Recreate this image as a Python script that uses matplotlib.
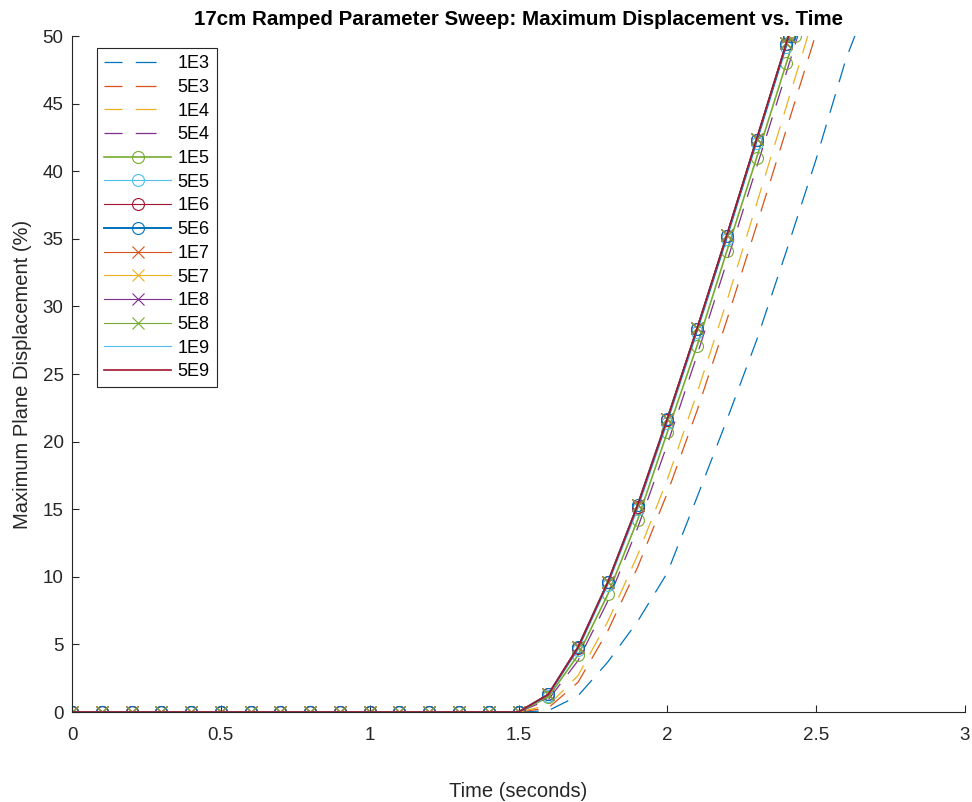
import numpy as np
import matplotlib
matplotlib.use("Agg")
import matplotlib.pyplot as plt

plt.rcParams['font.family'] = ['Liberation Sans', 'DejaVu Sans']
plt.rcParams['lines.scale_dashes'] = False

# time samples (s), every series is flat until 1.5 s
times = [0.0, 0.1, 0.2, 0.3, 0.4, 0.5, 0.6, 0.7, 0.8, 0.9, 1.0, 1.1, 1.2,
         1.3, 1.4, 1.5, 1.6, 1.7, 1.8, 1.9, 2.0, 2.1, 2.2, 2.3, 2.4, 2.5, 2.6]
flat = [0.0] * 16

labels = ['1E3', '5E3', '1E4', '5E4', '1E5', '5E5', '1E6', '5E6',
          '1E7', '5E7', '1E8', '5E8', '1E9', '5E9']

# displacement (%) from 1.6 s onwards
rise_1e3 = [0.1, 1.2, 3.7, 6.7, 10.3, 15.9, 21.6, 27.5, 34.1, 40.9, 48.3]
rise_5e3 = [0.3, 2.2, 6.0, 10.7, 16.2, 22.3, 29.0, 36.0, 43.1]
rise_1e4 = [0.5, 2.7, 6.7, 11.6, 17.2, 23.6, 30.4, 37.6, 44.8]
rise_5e4 = [0.9, 3.8, 8.2, 13.6, 19.8, 26.4, 33.3, 40.3, 47.3]
rise_1e5 = [1.1, 4.2, 8.7, 14.2, 20.7, 27.1, 34.1, 41.0, 48.0]
rise_5e5 = [1.2, 4.6, 9.4, 15.0, 21.4, 28.1, 35.0, 42.1, 49.2]
rise_1e6 = [1.3, 4.7, 9.6, 15.2, 21.6, 28.3, 35.2, 42.3, 49.4]
rise_5e6 = [1.3, 4.8, 9.6, 15.3, 21.7, 28.3, 35.2, 42.3, 49.4]
rise_1e7 = [1.3, 4.8, 9.6, 15.3, 21.7, 28.4, 35.3, 42.4, 49.5]
rise_5e7 = [1.3, 4.8, 9.6, 15.3, 21.7, 28.4, 35.3, 42.4, 49.5]
rise_1e8 = [1.3, 4.8, 9.6, 15.3, 21.7, 28.4, 35.3, 42.4, 49.5]
rise_5e8 = [1.3, 4.8, 9.6, 15.3, 21.7, 28.4, 35.3, 42.4, 49.5]
rise_1e9 = [1.3, 4.8, 9.6, 15.3, 21.7, 28.4, 35.3, 42.4, 49.5]
rise_5e9 = [1.3, 4.8, 9.6, 15.3, 21.7, 28.4, 35.3, 42.4, 49.5]

# time at which each run hit the 50 % stop value
end_times = [2.63, 2.497, 2.472, 2.438, 2.428, 2.411, 2.409, 2.408,
             2.407, 2.407, 2.407, 2.407, 2.407, 2.407]
end_value = 50.0

rises = [rise_1e3, rise_5e3, rise_1e4, rise_5e4, rise_1e5, rise_5e5, rise_1e6,
         rise_5e6, rise_1e7, rise_5e7, rise_1e8, rise_5e8, rise_1e9, rise_5e9]

# MATLAB default colour order
mc = ['#0072BD', '#D95319', '#EDB120', '#7E2F8E', '#77AC30', '#4DBEEE', '#A2142F']
dash = (0, (14, 9))
styles = [
    (mc[0], dash, 'None', 0.9),
    (mc[1], dash, 'None', 0.9),
    (mc[2], dash, 'None', 0.9),
    (mc[3], dash, 'None', 0.9),
    (mc[4], '-', 'o', 1.2),
    (mc[5], '-', 'o', 0.8),
    (mc[6], '-', 'o', 0.8),
    (mc[0], '-', 'o', 1.4),
    (mc[1], '-', 'x', 0.8),
    (mc[2], '-', 'x', 0.8),
    (mc[3], '-', 'x', 0.8),
    (mc[4], '-', 'x', 0.8),
    (mc[5], '-', 'None', 0.8),
    (mc[6], '-', 'None', 1.2),
]

fig = plt.figure(figsize=(9.72, 8.02), dpi=100)
ax = fig.add_axes([0.0741, 0.1122, 0.9187, 0.8429])

for lab, rise, t_end, (col, ls, mk, lw) in zip(labels, rises, end_times, styles):
    vals = flat + rise
    x = times[:len(vals)] + [t_end]
    y = vals + [end_value]
    ax.plot(x, y, color=col, linestyle=ls, marker=mk, lw=lw, ms=8.6,
            markerfacecolor='none', markeredgewidth=0.8, label=lab)

ax.set_xlim(0, 3)
ax.set_ylim(0, 50)
ax.set_xticks([0, 0.5, 1, 1.5, 2, 2.5, 3])
ax.set_xticklabels(['0', '0.5', '1', '1.5', '2', '2.5', '3'])
ax.set_yticks(np.arange(0, 51, 5))

for side in ['top', 'right']:
    ax.spines[side].set_visible(False)
for side in ['left', 'bottom']:
    ax.spines[side].set_color('#262626')
    ax.spines[side].set_linewidth(0.8)
ax.tick_params(direction='in', length=5, width=0.8, colors='#262626',
               labelsize=13.5, labelcolor='#262626', pad=6)
ax.tick_params(axis='x', pad=11)

ax.set_title('17cm Ramped Parameter Sweep: Maximum Displacement vs. Time',
             fontsize=14.8, fontweight='bold', pad=8)
ax.set_xlabel('Time (seconds)', fontsize=14.5, color='#262626', labelpad=27)
ax.set_ylabel('Maximum Plane Displacement (%)', fontsize=14.5, color='#262626',
              labelpad=8)

leg = ax.legend(loc='upper left', bbox_to_anchor=(0.028, 0.982), fontsize=13,
                frameon=True, fancybox=False, borderpad=0.4, labelspacing=0.37,
                handlelength=3.7, handletextpad=0.35, borderaxespad=0)
leg.get_frame().set_edgecolor('#262626')
leg.get_frame().set_linewidth(0.8)
leg.get_frame().set_alpha(1)
# two clean dashes in the legend samples, as in the original
for line in leg.get_lines()[:4]:
    line.set_linestyle((2, (15, 9.5, 15, 100)))

fig.savefig('out.png', dpi=100)
